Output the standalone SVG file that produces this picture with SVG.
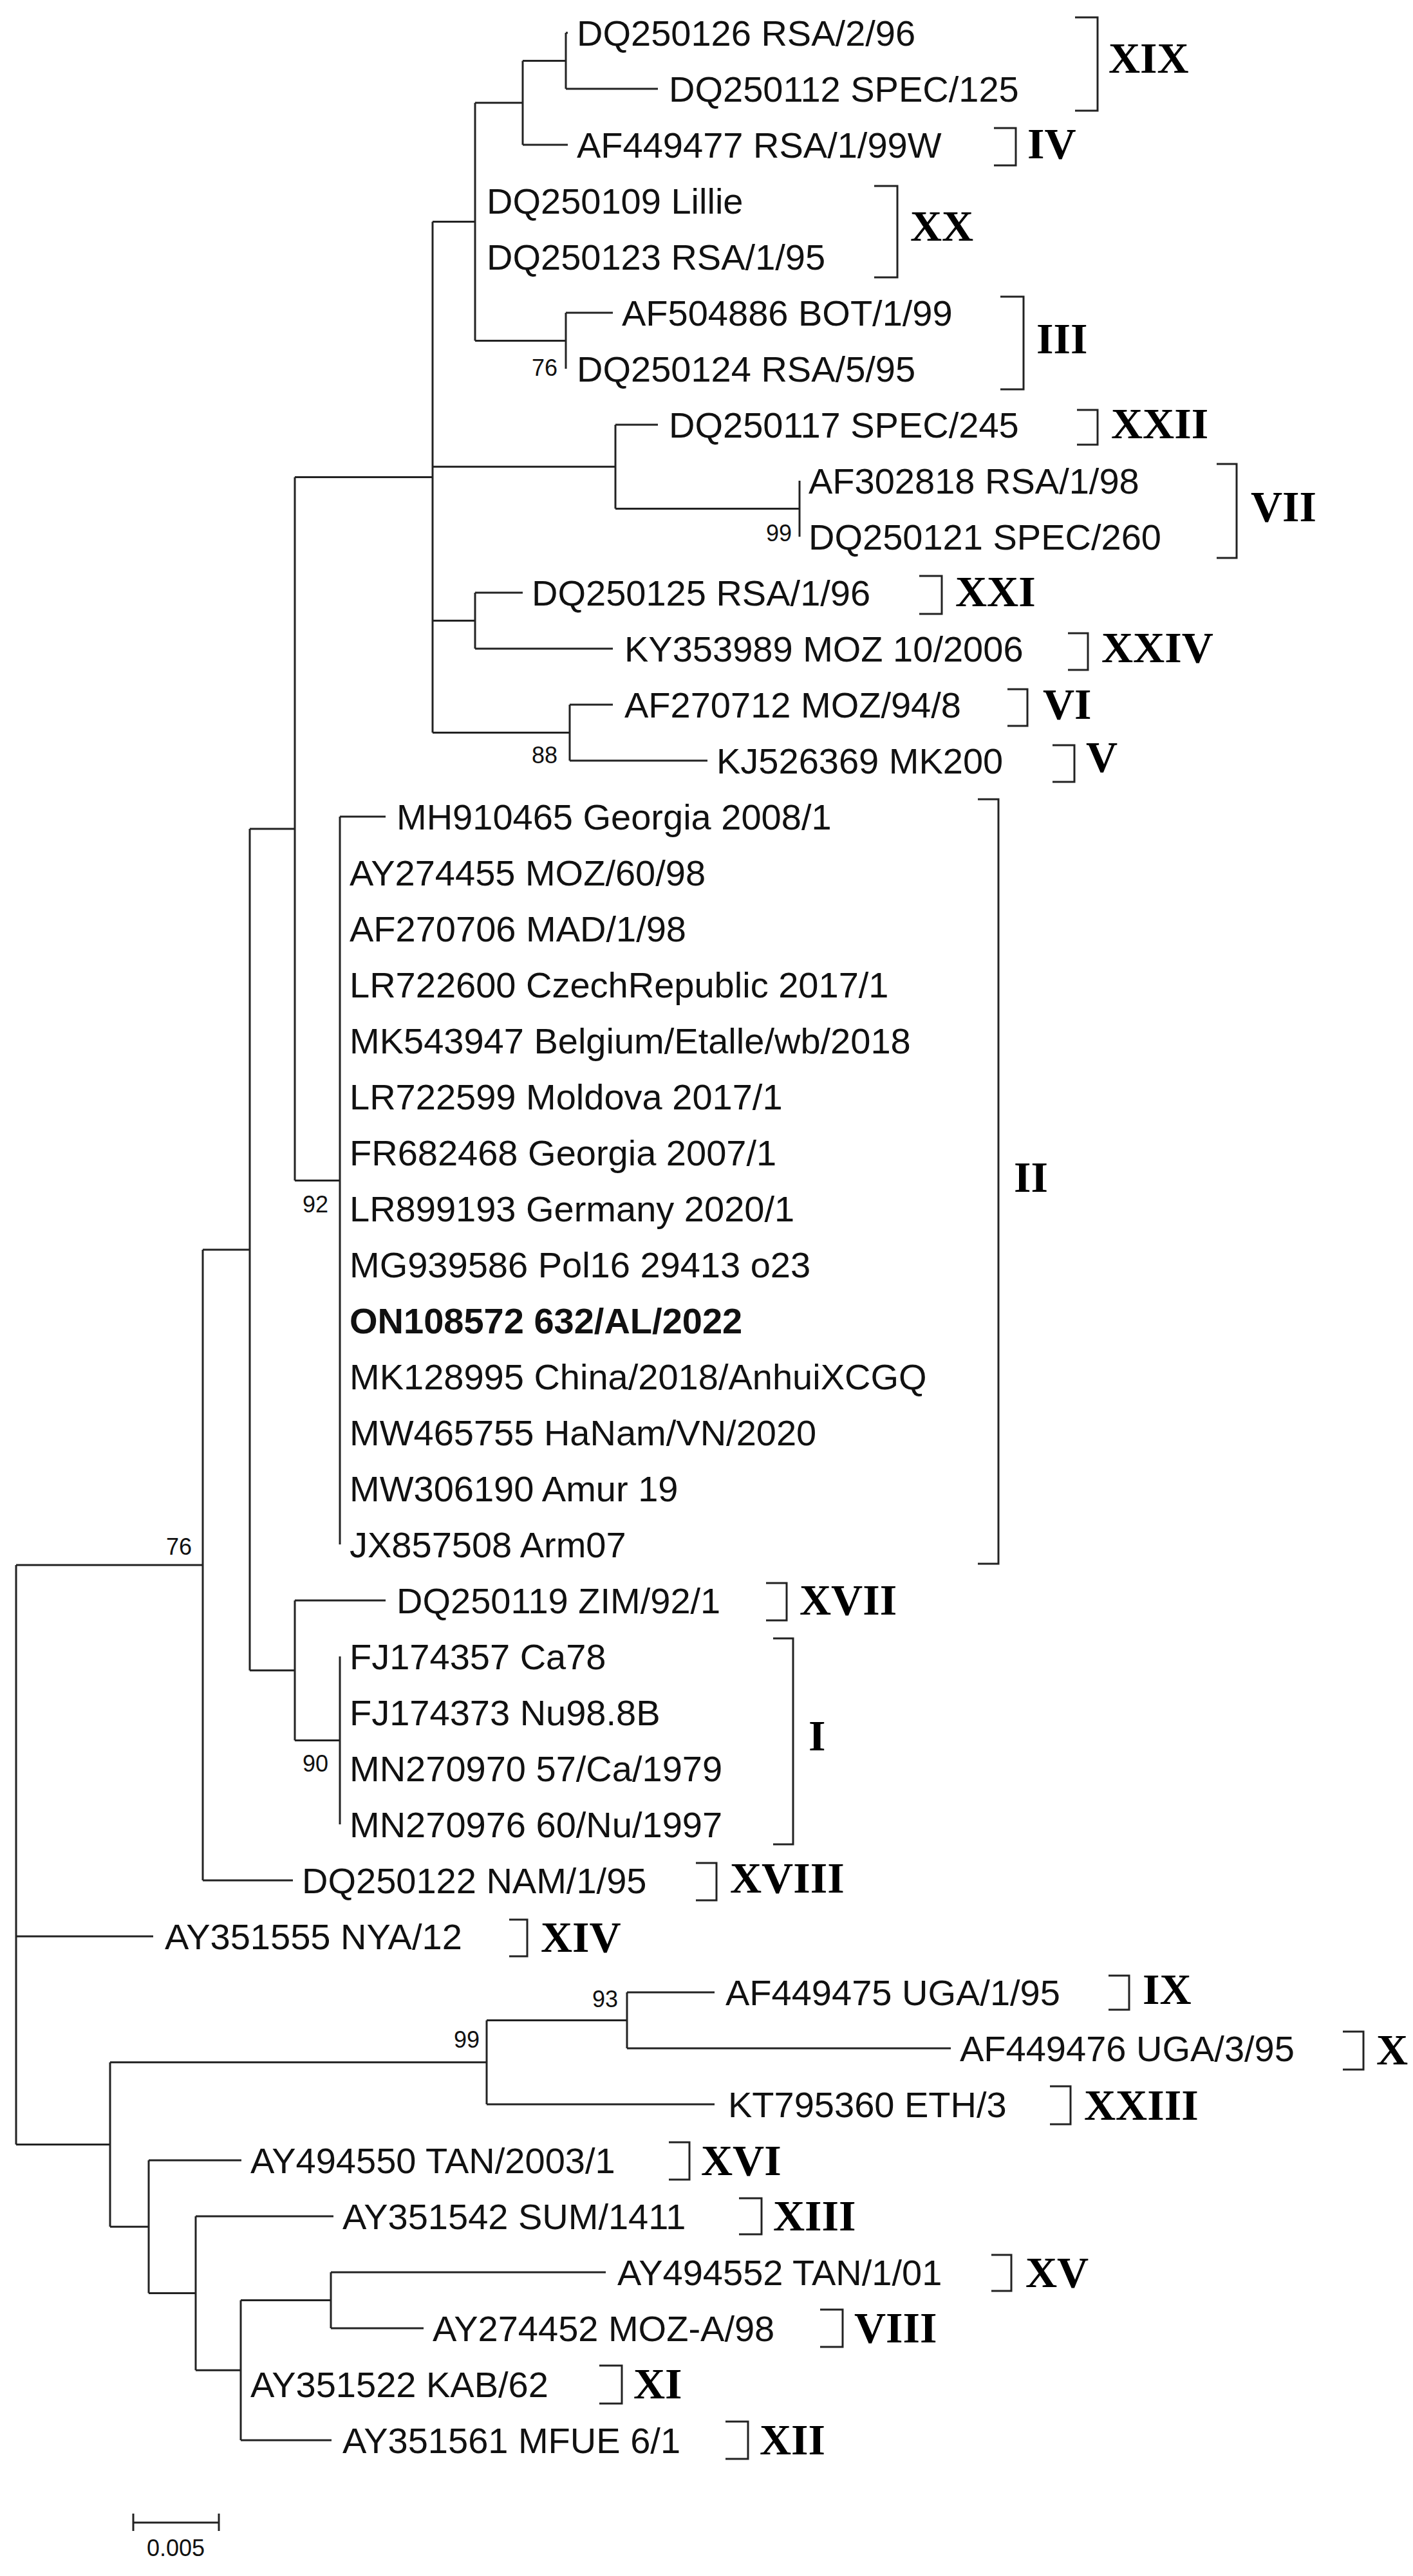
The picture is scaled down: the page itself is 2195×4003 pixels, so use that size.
<svg xmlns="http://www.w3.org/2000/svg" width="2195" height="4003" viewBox="0 0 2195 4003">
<style>
.t{font-family:"Liberation Sans",Arial,sans-serif;font-size:56px;fill:#111}
.b{font-family:"Liberation Sans",Arial,sans-serif;font-size:36px;fill:#111;text-anchor:end}
.r{font-family:"Liberation Serif","Times New Roman",serif;font-size:68px;font-weight:bold;fill:#000}
.ln{fill:none;stroke:#222;stroke-width:3}
</style>
<rect width="2195" height="4003" fill="#fff"/>
<g id="connectors" class="ln">
<path d="M879 51V138M879 51H882M879 138H1022M812 94.5V225M812 94.5H879M812 225H882M738 159.75V529.5M738 159.75H812M879 486V573M879 486H952M738 529.5H879M672 344.6V1138.5M672 344.6H738M956 660V790.5M956 660H1022M1242 747V834M956 790.5H1242M672 725.25H956M738 921V1008M738 921H812M738 1008H952M672 964.5H738M885 1095V1182M885 1095H952M885 1182H1099M672 1138.5H885M458 741.6V1834.5M458 741.6H672M528 1269V2400M528 1269H599M458 1834.5H528M528 2574V2835M458 2487V2704.5M458 2487H599M458 2704.5H528M388 1288V2595.75M388 1288H458M388 2595.75H458M315 1942V2922M315 1942H388M315 2922H455M25 2432V3332.5M25 2432H315M25 3009H238M974 3096V3183M974 3096H1110M974 3183H1477M756 3139.5V3270M756 3139.5H974M756 3270H1110M171 3204.75V3460.3M171 3204.75H756M231 3357V3563.6M231 3357H375M304 3444V3683.25M304 3444H518M514 3531V3618M514 3531H941M514 3618H658M374 3574.5V3792M374 3574.5H514M374 3792H515M304 3683.25H374M231 3563.6H304M171 3460.3H231M25 3332.5H171"/>
<path d="M207 3920H340M207 3906V3933M340 3906V3933"/>
<path d="M1670 27H1705V172H1670M1544 199H1578V257H1544M1358 289H1394V431H1358M1554 461H1590V605H1554M1673 637H1705V691H1673M1890 721H1921V867H1890M1428 895H1463V954H1428M1659 984H1690V1041H1659M1565 1071H1596V1128H1565M1635 1158H1669V1215H1635M1519 1242H1551V2430H1519M1190 2460H1222V2518H1190M1201 2546H1232V2866H1201M1081 2895H1113V2953H1081M791 2983H819V3040H791M1722 3070H1754V3123H1722M2086 3157H2118V3216H2086M1631 3242H1663V3301H1631M1039 3329H1071V3387H1039M1148 3416H1183V3472H1148M1540 3504H1571V3560H1540M1274 3589H1309V3647H1274M931 3676H966V3735H931M1127 3763H1162V3821H1127"/>
</g>
<g id="tips" class="t">
<text id="n1" x="896" y="71">DQ250126 RSA/2/96</text>
<text id="n2" x="1039" y="158">DQ250112 SPEC/125</text>
<text id="n3" x="896" y="245">AF449477 RSA/1/99W</text>
<text id="n4" x="756" y="332">DQ250109 Lillie</text>
<text id="n5" x="756" y="419">DQ250123 RSA/1/95</text>
<text id="n6" x="966" y="506">AF504886 BOT/1/99</text>
<text id="n7" x="896" y="593">DQ250124 RSA/5/95</text>
<text id="n8" x="1039" y="680">DQ250117 SPEC/245</text>
<text id="n9" x="1256" y="767">AF302818 RSA/1/98</text>
<text id="n10" x="1256" y="854">DQ250121 SPEC/260</text>
<text id="n11" x="826" y="941">DQ250125 RSA/1/96</text>
<text id="n12" x="970" y="1028">KY353989 MOZ 10/2006</text>
<text id="n13" x="970" y="1115">AF270712 MOZ/94/8</text>
<text id="n14" x="1113" y="1202">KJ526369 MK200</text>
<text id="n15" x="616" y="1289">MH910465 Georgia 2008/1</text>
<text id="n16" x="543" y="1376">AY274455 MOZ/60/98</text>
<text id="n17" x="543" y="1463">AF270706 MAD/1/98</text>
<text id="n18" x="543" y="1550">LR722600 CzechRepublic 2017/1</text>
<text id="n19" x="543" y="1637">MK543947 Belgium/Etalle/wb/2018</text>
<text id="n20" x="543" y="1724">LR722599 Moldova 2017/1</text>
<text id="n21" x="543" y="1811">FR682468 Georgia 2007/1</text>
<text id="n22" x="543" y="1898">LR899193 Germany 2020/1</text>
<text id="n23" x="543" y="1985">MG939586 Pol16 29413 o23</text>
<text id="n24" x="543" y="2072" font-weight="bold">ON108572 632/AL/2022</text>
<text id="n25" x="543" y="2159">MK128995 China/2018/AnhuiXCGQ</text>
<text id="n26" x="543" y="2246">MW465755 HaNam/VN/2020</text>
<text id="n27" x="543" y="2333">MW306190 Amur 19</text>
<text id="n28" x="543" y="2420">JX857508 Arm07</text>
<text id="n29" x="616" y="2507">DQ250119 ZIM/92/1</text>
<text id="n30" x="543" y="2594">FJ174357 Ca78</text>
<text id="n31" x="543" y="2681">FJ174373 Nu98.8B</text>
<text id="n32" x="543" y="2768">MN270970 57/Ca/1979</text>
<text id="n33" x="543" y="2855">MN270976 60/Nu/1997</text>
<text id="n34" x="469" y="2942">DQ250122 NAM/1/95</text>
<text id="n35" x="256" y="3029">AY351555 NYA/12</text>
<text id="n36" x="1127" y="3116">AF449475 UGA/1/95</text>
<text id="n37" x="1491" y="3203">AF449476 UGA/3/95</text>
<text id="n38" x="1131" y="3290">KT795360 ETH/3</text>
<text id="n39" x="389" y="3377">AY494550 TAN/2003/1</text>
<text id="n40" x="532" y="3464">AY351542 SUM/1411</text>
<text id="n41" x="959" y="3551">AY494552 TAN/1/01</text>
<text id="n42" x="672" y="3638">AY274452 MOZ-A/98</text>
<text id="n43" x="389" y="3725">AY351522 KAB/62</text>
<text id="n44" x="532" y="3812">AY351561 MFUE 6/1</text>
</g>
<g id="bootstrap" class="b">
<text x="866" y="584">76</text>
<text x="1230" y="841">99</text>
<text x="866" y="1186">88</text>
<text x="510" y="1884">92</text>
<text x="298" y="2416">76</text>
<text x="510" y="2753">90</text>
<text x="745" y="3182">99</text>
<text x="960" y="3119">93</text>
</g>
<g id="clades" class="r">
<text x="1722" y="113">XIX</text>
<text x="1596" y="246">IV</text>
<text x="1414" y="374">XX</text>
<text x="1610" y="549">III</text>
<text x="1726" y="681">XXII</text>
<text x="1943" y="810">VII</text>
<text x="1484" y="942">XXI</text>
<text x="1711" y="1029">XXIV</text>
<text x="1620" y="1117">VI</text>
<text x="1687" y="1199">V</text>
<text x="1575" y="1852">II</text>
<text x="1242" y="2509">XVII</text>
<text x="1256" y="2720">I</text>
<text x="1134" y="2941">XVIII</text>
<text x="840" y="3033">XIV</text>
<text x="1775" y="3114">IX</text>
<text x="2138" y="3208">X</text>
<text x="1684" y="3294">XXIII</text>
<text x="1089" y="3380">XVI</text>
<text x="1201" y="3466">XIII</text>
<text x="1593" y="3554">XV</text>
<text x="1327" y="3640">VIII</text>
<text x="984" y="3727">XI</text>
<text x="1180" y="3814">XII</text>
</g>
<g id="scale">
<text x="273" y="3972" font-family="Liberation Sans,Arial,sans-serif" font-size="36" text-anchor="middle" fill="#111">0.005</text>
</g>
</svg>
